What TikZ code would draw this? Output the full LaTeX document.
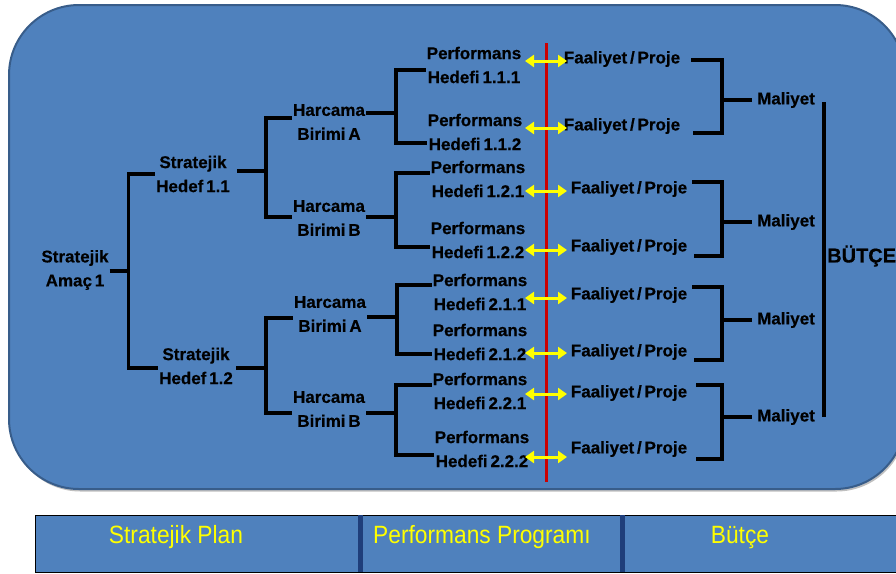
\documentclass[tikz,border=0pt]{standalone}
\usepackage{fontspec}
\setmainfont{Liberation Sans}
\newfontfamily\bandfont[FakeStretch=0.91]{Liberation Sans}
\newfontfamily\lblfamily{Liberation Sans}[WordSpace=0.6, BoldFeatures={FakeBold=0.5}]
\usetikzlibrary{arrows.meta}
\definecolor{panel}{HTML}{4F81BD}
\definecolor{panelborder}{HTML}{385D8A}
\definecolor{divider}{HTML}{1F3E7A}
\definecolor{redline}{RGB}{204,0,0}
\definecolor{arrowyellow}{HTML}{FFFF00}
\begin{document}
\begin{tikzpicture}[x=1pt,y=-1pt,
  lbl/.style={font=\lblfamily\bfseries\fontsize{17}{24}\selectfont, align=center, inner sep=1pt, text=black},
  conn/.style={draw=black, line width=3.5pt},
  biarrow/.style={draw=arrowyellow, line width=3pt, {Triangle[length=9pt,width=12pt]}-{Triangle[length=9pt,width=12pt]}},
  bandtext/.style={font=\bandfont\fontsize{25}{30}\selectfont, text=arrowyellow, inner sep=0pt, anchor=base}]
\useasboundingbox (0,0) rectangle (896,573);
\clip (0,0) rectangle (896,573);
% main panel
\fill[black, opacity=0.25, rounded corners=70pt] (10.5,7.5) rectangle (906.5,491.5);
\draw[fill=panel, draw=panelborder, line width=2pt, rounded corners=70pt] (9,5) rectangle (905,489);
% bottom band
\draw[fill=panel, draw=black, line width=1pt] (35,515) rectangle (910,572);
\draw[divider, line width=5pt] (360.5,515) -- (360.5,572);
\draw[divider, line width=5pt] (622,515) -- (622,572);
\node[bandtext] (bsp) at (176,543) {Stratejik Plan};
\node[bandtext, anchor=base west] (bpp) at (373,543) {Performans Programı};
\node[bandtext] (bb) at (740,543) {Bütçe};
% tree nodes
\node[lbl] (amac) at (75,270) {Stratejik\\Amaç 1};
\node[lbl] (h11) at (193,174) {Stratejik\\Hedef 1.1};
\node[lbl] (h12) at (196,366) {Stratejik\\Hedef 1.2};
\node[lbl] (hA1) at (329,122) {Harcama\\Birimi A};
\node[lbl] (hB1) at (329,218) {Harcama\\Birimi B};
\node[lbl] (hA2) at (330,314) {Harcama\\Birimi A};
\node[lbl] (hB2) at (329,409) {Harcama\\Birimi B};
\node[lbl] (p111) at (474,65) {Performans\\Hedefi 1.1.1};
\node[lbl] (p112) at (475,132) {Performans\\Hedefi 1.1.2};
\node[lbl] (p121) at (478,179) {Performans\\Hedefi 1.2.1};
\node[lbl] (p122) at (478,240) {Performans\\Hedefi 1.2.2};
\node[lbl] (p211) at (480,292) {Performans\\Hedefi 2.1.1};
\node[lbl] (p212) at (480,342) {Performans\\Hedefi 2.1.2};
\node[lbl] (p221) at (480,391) {Performans\\Hedefi 2.2.1};
\node[lbl] (p222) at (482,449) {Performans\\Hedefi 2.2.2};
\node[lbl] (f1) at (622,59) {Faaliyet / Proje};
\node[lbl] (f2) at (622,126) {Faaliyet / Proje};
\node[lbl] (f3) at (629,189) {Faaliyet / Proje};
\node[lbl] (f4) at (629,247) {Faaliyet / Proje};
\node[lbl] (f5) at (629,295) {Faaliyet / Proje};
\node[lbl] (f6) at (629,352) {Faaliyet / Proje};
\node[lbl] (f7) at (629,393) {Faaliyet / Proje};
\node[lbl] (f8) at (629,449) {Faaliyet / Proje};
\node[lbl] (m1) at (786,100) {Maliyet};
\node[lbl] (m2) at (786,222) {Maliyet};
\node[lbl] (m3) at (786,320) {Maliyet};
\node[lbl] (m4) at (786,417) {Maliyet};
\node[lbl, font=\lblfamily\bfseries\fontsize{20}{24}\selectfont, anchor=west] (butce) at (826,256) {BÜTÇE};
% strategic aim bracket
\coordinate (jAm) at ([xshift=19pt,yshift=-1pt]amac.east);
\draw[conn] ([yshift=-1pt]amac.east) -- (jAm);
\draw[conn] (h11.west) -| (jAm) |- ([yshift=-2pt]h12.west);
% goal brackets
\coordinate (jH1) at ([xshift=35pt,yshift=3pt]h11.east);
\draw[conn] ([xshift=6pt,yshift=3pt]h11.east) -- (jH1);
\draw[conn] ([yshift=4pt]hA1.west) -| (jH1) |- ([yshift=1pt]hB1.west);
\coordinate (jH2) at ([xshift=32pt,yshift=-2pt]h12.east);
\draw[conn] ([xshift=2pt,yshift=-2pt]h12.east) -- (jH2);
\draw[conn] ([yshift=-4pt]hA2.west) -| (jH2) |- ([yshift=-4pt]hB2.west);
% unit brackets
\coordinate (jA1) at ([xshift=30pt,yshift=9pt]hA1.east);
\draw[conn] ([yshift=9pt]hA1.east) -- (jA1);
\draw[conn] ([yshift=-5pt]p111.west) -| (jA1) |- ([yshift=-11pt]p112.west);
\coordinate (jB1) at ([xshift=30pt,yshift=1pt]hB1.east);
\draw[conn] ([yshift=1pt]hB1.east) -- (jB1);
\draw[conn] ([yshift=6pt]p121.west) -| (jB1) |- ([yshift=-7pt]p122.west);
\coordinate (jA2) at ([xshift=30pt,yshift=-3pt]hA2.east);
\draw[conn] ([yshift=-3pt]hA2.east) -- (jA2);
\draw[conn] ([yshift=7pt]p211.west) -| (jA2) |- ([yshift=-12pt]p212.west);
\coordinate (jB2) at ([xshift=30pt,yshift=-4pt]hB2.east);
\draw[conn] ([yshift=-4pt]hB2.east) -- (jB2);
\draw[conn] ([yshift=6pt]p221.west) -| (jB2) |- ([yshift=-6pt]p222.west);
% red divider line
\coordinate (rtop) at (546,43);
\coordinate (rbot) at (546,482);
\draw[redline, line width=3pt] (rtop) -- (rbot);
% yellow double arrows
\foreach \f/\dy in {f1/2,f2/2,f3/2,f4/3,f5/3,f6/1,f7/1,f8/8}
  \draw[biarrow] ([xshift=-21pt,yshift=-\dy pt]rtop |- \f.west) -- ([xshift=21pt,yshift=-\dy pt]rtop |- \f.west);
% cost brackets
\coordinate (jm1) at ([xshift=-34pt]m1.west);
\draw[conn] (jm1) -- ([xshift=-4pt]m1.west);
\draw[conn] ([xshift=10pt,yshift=-1pt]f1.east) -| (jm1) |- ([xshift=12pt,yshift=-7pt]f2.east);
\coordinate (jm2) at ([xshift=-34pt]m2.west);
\draw[conn] (jm2) -- ([xshift=-4pt]m2.west);
\draw[conn] ([xshift=4pt,yshift=7pt]f3.east) -| (jm2) |- ([xshift=6pt,yshift=-9pt]f4.east);
\coordinate (jm3) at ([xshift=-34pt]m3.west);
\draw[conn] (jm3) -- ([xshift=-4pt]m3.west);
\draw[conn] ([xshift=4pt,yshift=8pt]f5.east) -| (jm3) |- ([xshift=6pt,yshift=-8pt]f6.east);
\coordinate (jm4) at ([xshift=-34pt]m4.west);
\draw[conn] (jm4) -- ([xshift=-4pt]m4.west);
\draw[conn] ([xshift=8pt,yshift=8pt]f7.east) -| (jm4) |- ([xshift=8pt,yshift=-10pt]f8.east);
% budget line
\draw[conn] ([xshift=8pt,yshift=-2pt]m1.east) -- ([xshift=8pt]m4.east);
\end{tikzpicture}
\end{document}
